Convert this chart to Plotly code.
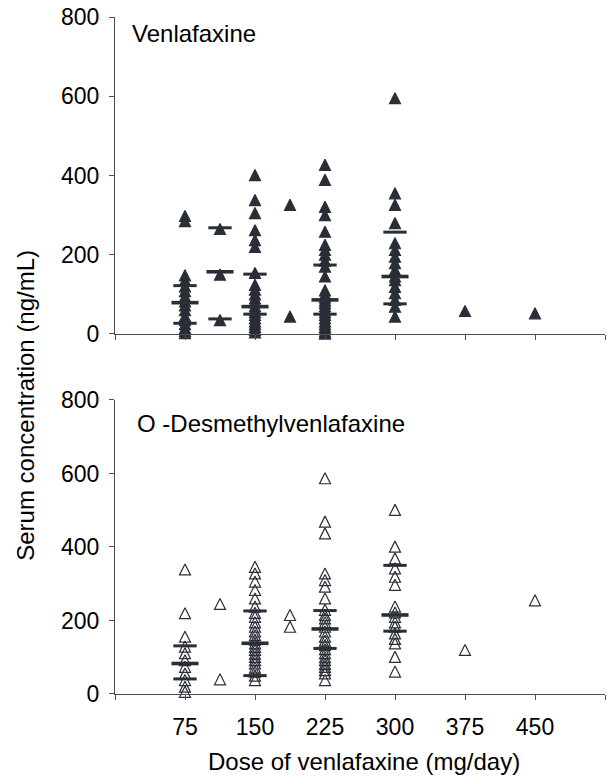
import plotly.graph_objects as go

# Dose groups (mg/day)
doses = [75, 112.5, 150, 187.5, 225, 300, 375, 450]

# Venlafaxine serum concentrations (ng/mL) per dose group
ven_values = [
    [298, 285, 148, 135, 120, 108, 95, 82, 72, 60, 45, 35, 25, 15, 8, 2],
    [265, 150, 35],
    [401, 338, 305, 262, 237, 220, 154, 124, 112, 100, 90, 80, 70, 62, 55, 48, 40, 32, 25, 18, 10, 4],
    [326, 44],
    [427, 389, 321, 300, 258, 225, 212, 200, 185, 170, 145, 110, 100, 92, 85, 78, 70, 62, 55, 48, 40, 32, 25, 18, 12, 6, 1],
    [595, 355, 326, 280, 229, 212, 195, 179, 162, 145, 136, 119, 103, 86, 69, 44],
    [58],
    [52],
]

# O-desmethylvenlafaxine serum concentrations (ng/mL) per dose group
odv_values = [
    [339, 220, 156, 129, 111, 92, 74, 56, 38, 20, 6],
    [245, 40],
    [346, 328, 306, 283, 260, 238, 221, 210, 195, 183, 170, 160, 148, 138, 128, 120, 110, 101, 92, 83, 72, 61, 50, 38],
    [215, 183],
    [587, 469, 437, 328, 310, 292, 260, 229, 215, 206, 195, 183, 170, 156, 145, 133, 122, 111, 100, 92, 82, 74, 65, 56, 38],
    [501, 401, 369, 342, 319, 297, 238, 222, 210, 195, 183, 165, 150, 138, 101, 61],
    [120],
    [255],
]

# Summary bars (25th percentile, median, 75th percentile)
ven_summary_doses = [75, 112.5, 150, 225, 300]
ven_q1 = [27, 38, 50, 50, 76]
ven_median = [79, 157, 69, 86, 145]
ven_q3 = [122, 268, 151, 174, 257]

odv_summary_doses = [75, 150, 225, 300]
odv_q1 = [41, 50, 124, 171]
odv_median = [83, 138, 177, 215]
odv_q3 = [131, 226, 227, 350]

x_tick_vals = [0, 75, 150, 225, 300, 375, 450, 525]
x_tick_text = ["", "75", "150", "225", "300", "375", "450", ""]
y_tick_vals = [0, 200, 400, 600, 800]

INK = "#2a2e37"
AXIS = "#4d4d4d"
FONT = "Liberation Sans, Arial, sans-serif"
MARKER_SIZE = 11
MEDIAN_HALF = 14.5
QUART_HALF = 12.5


def flatten(groups):
    xs, ys = [], []
    for d, vals in zip(doses, groups):
        for v in vals:
            xs.append(d)
            ys.append(v)
    return xs, ys


def bar_segments(centers, values, half):
    xs, ys = [], []
    for c, v in zip(centers, values):
        xs += [c - half, c + half, None]
        ys += [v, v, None]
    return xs, ys


fig = go.Figure()

panels = [
    (ven_values, ven_summary_doses, ven_q1, ven_median, ven_q3, "x", "y", "arrow-down"),
    (odv_values, odv_summary_doses, odv_q1, odv_median, odv_q3, "x2", "y2", "arrow-down-open"),
]

for vals, sdoses, q1, med, q3, xa, ya, sym in panels:
    px, py = flatten(vals)
    fig.add_trace(go.Scatter(
        x=px, y=py, mode="markers", xaxis=xa, yaxis=ya, cliponaxis=False,
        marker=dict(symbol=sym, size=MARKER_SIZE, angle=180, standoff=MARKER_SIZE / 2,
                    color=INK, line=dict(color=INK, width=1.2)),
        showlegend=False, hoverinfo="skip",
    ))
    for values, half, width in [(q1, QUART_HALF, 3), (q3, QUART_HALF, 3), (med, MEDIAN_HALF, 3.6)]:
        bx, by = bar_segments(sdoses, values, half)
        fig.add_trace(go.Scatter(
            x=bx, y=by, mode="lines", xaxis=xa, yaxis=ya, cliponaxis=False,
            line=dict(color=INK, width=width), showlegend=False, hoverinfo="skip",
        ))

common_axis = dict(
    showline=True, linecolor=AXIS, linewidth=1.3, ticks="outside", ticklen=5,
    tickwidth=1.3, tickcolor=AXIS, showgrid=False, zeroline=False,
    tickfont=dict(family=FONT, size=23, color="black"),
)

fig.update_layout(
    width=607, height=778,
    margin=dict(l=115, r=2, t=17, b=84),
    paper_bgcolor="white", plot_bgcolor="white",
    xaxis=dict(common_axis, range=[0, 525], tickvals=x_tick_vals, showticklabels=False,
               anchor="y", domain=[0, 1]),
    yaxis=dict(common_axis, range=[0, 800], tickvals=y_tick_vals, domain=[0.5318, 1],
               anchor="x", ticklabelstandoff=5),
    xaxis2=dict(common_axis, range=[0, 525], tickvals=x_tick_vals, ticktext=x_tick_text,
                anchor="y2", domain=[0, 1], ticklabelstandoff=7),
    yaxis2=dict(common_axis, range=[0, 800], tickvals=y_tick_vals, domain=[0, 0.4343],
                anchor="x2", ticklabelstandoff=5),
    font=dict(family=FONT, color="black"),
)

fig.add_annotation(text="Venlafaxine", xref="paper", yref="paper", x=0.031, y=0.975,
                   xanchor="left", yanchor="middle", showarrow=False,
                   font=dict(family=FONT, size=24, color="black"))
fig.add_annotation(text="O -Desmethylvenlafaxine", xref="paper", yref="paper", x=0.041, y=0.400,
                   xanchor="left", yanchor="middle", showarrow=False,
                   font=dict(family=FONT, size=24, color="black"))
fig.add_annotation(text="Serum concentration (ng/mL)", xref="paper", yref="paper",
                   x=-0.182, y=0.427, textangle=-90, xanchor="center", yanchor="middle",
                   showarrow=False, font=dict(family=FONT, size=24, color="black"))
fig.add_annotation(text="Dose of venlafaxine (mg/day)", xref="paper", yref="paper",
                   x=0.508, y=-0.1, xanchor="center", yanchor="middle",
                   showarrow=False, font=dict(family=FONT, size=24, color="black"))

fig.write_html("out.html")
